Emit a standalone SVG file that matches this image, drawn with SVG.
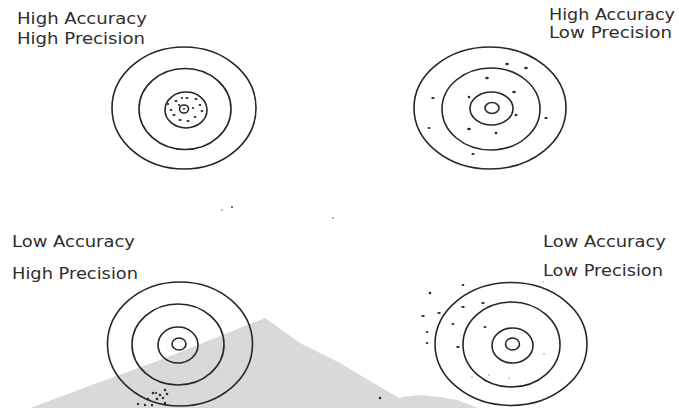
<svg xmlns="http://www.w3.org/2000/svg" width="679" height="408" viewBox="0 0 679 408">
<style>
.ring{fill:none;stroke:#262626;stroke-width:1.6}
.lbl{font-family:"DejaVu Sans","Liberation Sans",sans-serif;font-size:15px;fill:#2e2e2e}
.d{fill:#2a2a2a}
.f{fill:#9a9a9a}
</style>
<rect width="679" height="408" fill="#ffffff"/>
<g id="watermark" fill="#d9d9d9">
<polygon points="30,408 100,382 160,360 220,336 265,318 300,343 340,363 380,387 417,408"/>
<polygon points="398,408 401,397 420,395 440,397 457,400 478,408"/>
</g>
<g id="labels">
<text class="lbl" x="17" y="24" textLength="130" lengthAdjust="spacingAndGlyphs">High Accuracy</text>
<text class="lbl" x="17" y="44" textLength="128" lengthAdjust="spacingAndGlyphs">High Precision</text>
<text class="lbl" x="549" y="20" textLength="126" lengthAdjust="spacingAndGlyphs">High Accuracy</text>
<text class="lbl" x="549" y="38" textLength="123" lengthAdjust="spacingAndGlyphs">Low Precision</text>
<text class="lbl" x="12" y="247" textLength="123" lengthAdjust="spacingAndGlyphs">Low Accuracy</text>
<text class="lbl" x="12" y="279" textLength="126" lengthAdjust="spacingAndGlyphs">High Precision</text>
<text class="lbl" x="543" y="247" textLength="123" lengthAdjust="spacingAndGlyphs">Low Accuracy</text>
<text class="lbl" x="543" y="276" textLength="120" lengthAdjust="spacingAndGlyphs">Low Precision</text>
</g>
<g id="target-high-acc-high-prec">
<ellipse class="ring" cx="184" cy="108" rx="72" ry="61"/>
<ellipse class="ring" cx="185" cy="109" rx="46" ry="40.5"/>
<ellipse class="ring" cx="186" cy="110" rx="21" ry="18"/>
<ellipse class="ring" cx="184" cy="109" rx="4.5" ry="4" stroke-width="1.2"/>
<circle class="d" cx="184" cy="109" r="1"/>
<g class="d">
<ellipse cx="176" cy="101" rx="1.6" ry="1.1"/>
<ellipse cx="187" cy="98" rx="1.6" ry="1.1"/>
<ellipse cx="196" cy="99" rx="1.6" ry="1.1"/>
<ellipse cx="200" cy="105" rx="1.4" ry="1.1"/>
<ellipse cx="171" cy="110" rx="1.4" ry="1.1"/>
<ellipse cx="202" cy="111" rx="1.4" ry="1.1"/>
<ellipse cx="174" cy="115" rx="1.6" ry="1.1"/>
<ellipse cx="180" cy="120" rx="1.6" ry="1.1"/>
<ellipse cx="188" cy="121" rx="1.6" ry="1.1"/>
<ellipse cx="195" cy="117" rx="1.4" ry="1.1"/>
<ellipse cx="179" cy="105" rx="1.1" ry="1"/>
<ellipse cx="193" cy="108" rx="1.1" ry="1"/>
<ellipse cx="182" cy="98" rx="1.1" ry="1"/>
<ellipse cx="168" cy="104" rx="1.1" ry="1"/>
</g>
</g>
<g id="target-high-acc-low-prec">
<ellipse class="ring" cx="490" cy="108" rx="76" ry="61"/>
<ellipse class="ring" cx="491" cy="109" rx="49" ry="41"/>
<ellipse class="ring" cx="491.5" cy="108.5" rx="21.5" ry="16.5"/>
<ellipse class="ring" cx="492" cy="108" rx="7" ry="5.5"/>
<g class="d">
<ellipse cx="507" cy="64" rx="1.8" ry="1.2"/>
<ellipse cx="526" cy="68" rx="1.8" ry="1.2"/>
<ellipse cx="487" cy="78" rx="1.8" ry="1.2"/>
<ellipse cx="433" cy="98" rx="1.8" ry="1"/>
<ellipse cx="469" cy="97" rx="1.3" ry="1.2"/>
<ellipse cx="514" cy="92" rx="1.8" ry="1.2"/>
<ellipse cx="516" cy="115" rx="1.4" ry="1.2"/>
<ellipse cx="546" cy="118" rx="1.8" ry="1"/>
<ellipse cx="429" cy="128" rx="1.4" ry="1.1"/>
<ellipse cx="469" cy="129" rx="1.9" ry="1.2"/>
<ellipse cx="496" cy="133" rx="1.4" ry="1.2"/>
<ellipse cx="473" cy="154" rx="1.7" ry="1.1"/>
</g>
</g>
<g id="target-low-acc-high-prec">
<ellipse class="ring" cx="180" cy="344" rx="72.5" ry="62"/>
<ellipse class="ring" cx="178" cy="344.5" rx="46" ry="40.5"/>
<ellipse class="ring" cx="178" cy="345" rx="20" ry="18"/>
<ellipse class="ring" cx="179" cy="344" rx="7" ry="6"/>
<g class="d">
<circle cx="165" cy="390" r="1.3"/>
<circle cx="153" cy="393" r="1.3"/>
<circle cx="160" cy="395" r="1.3"/>
<circle cx="167" cy="394" r="1.3"/>
<circle cx="148" cy="399" r="1.2"/>
<circle cx="157" cy="399" r="1.3"/>
<circle cx="163" cy="398" r="1.2"/>
<circle cx="138" cy="404" r="1.2"/>
<circle cx="145" cy="405" r="1.2"/>
<circle cx="152" cy="405" r="1.2"/>
<circle cx="165" cy="403" r="1.2"/>
<circle cx="156" cy="393" r="1.1"/>
</g>
</g>
<g id="target-low-acc-low-prec">
<ellipse class="ring" cx="511" cy="344" rx="76" ry="61.5"/>
<ellipse class="ring" cx="511.5" cy="344.5" rx="48.5" ry="42.5"/>
<ellipse class="ring" cx="512.5" cy="345.5" rx="20.5" ry="17.5"/>
<ellipse class="ring" cx="512.5" cy="344" rx="7" ry="6"/>
<g class="d">
<ellipse cx="430" cy="293" rx="1.3" ry="1.2"/>
<ellipse cx="463" cy="285" rx="1.4" ry="1.1"/>
<ellipse cx="483" cy="303" rx="1.8" ry="1.1"/>
<ellipse cx="463" cy="307" rx="1.8" ry="1.1"/>
<ellipse cx="439" cy="313" rx="1.8" ry="1.1"/>
<ellipse cx="423" cy="316" rx="1.8" ry="1.1"/>
<ellipse cx="453" cy="324" rx="1.5" ry="1.1"/>
<ellipse cx="485" cy="327" rx="1.5" ry="1"/>
<ellipse cx="427" cy="332" rx="1.3" ry="1.1"/>
<ellipse cx="427" cy="343" rx="1.3" ry="1.1"/>
<ellipse cx="458" cy="347" rx="1.9" ry="1.1"/>
</g>
<g class="f">
<circle cx="512" cy="303" r="0.7"/>
<circle cx="543" cy="282" r="0.7"/>
<circle cx="492" cy="341" r="0.7"/>
<circle cx="544" cy="354" r="0.8"/>
<circle cx="472" cy="377" r="0.8"/>
<circle cx="489" cy="375" r="0.8"/>
<circle cx="509" cy="378" r="0.8"/>
<circle cx="515" cy="331" r="0.6"/>
</g>
</g>
<g id="specks">
<circle class="f" cx="222" cy="210" r="0.9"/>
<circle class="d" cx="232" cy="207" r="0.9"/>
<circle class="f" cx="333" cy="218" r="0.9"/>
<circle class="d" cx="380" cy="398" r="1.3"/>
</g>
</svg>
